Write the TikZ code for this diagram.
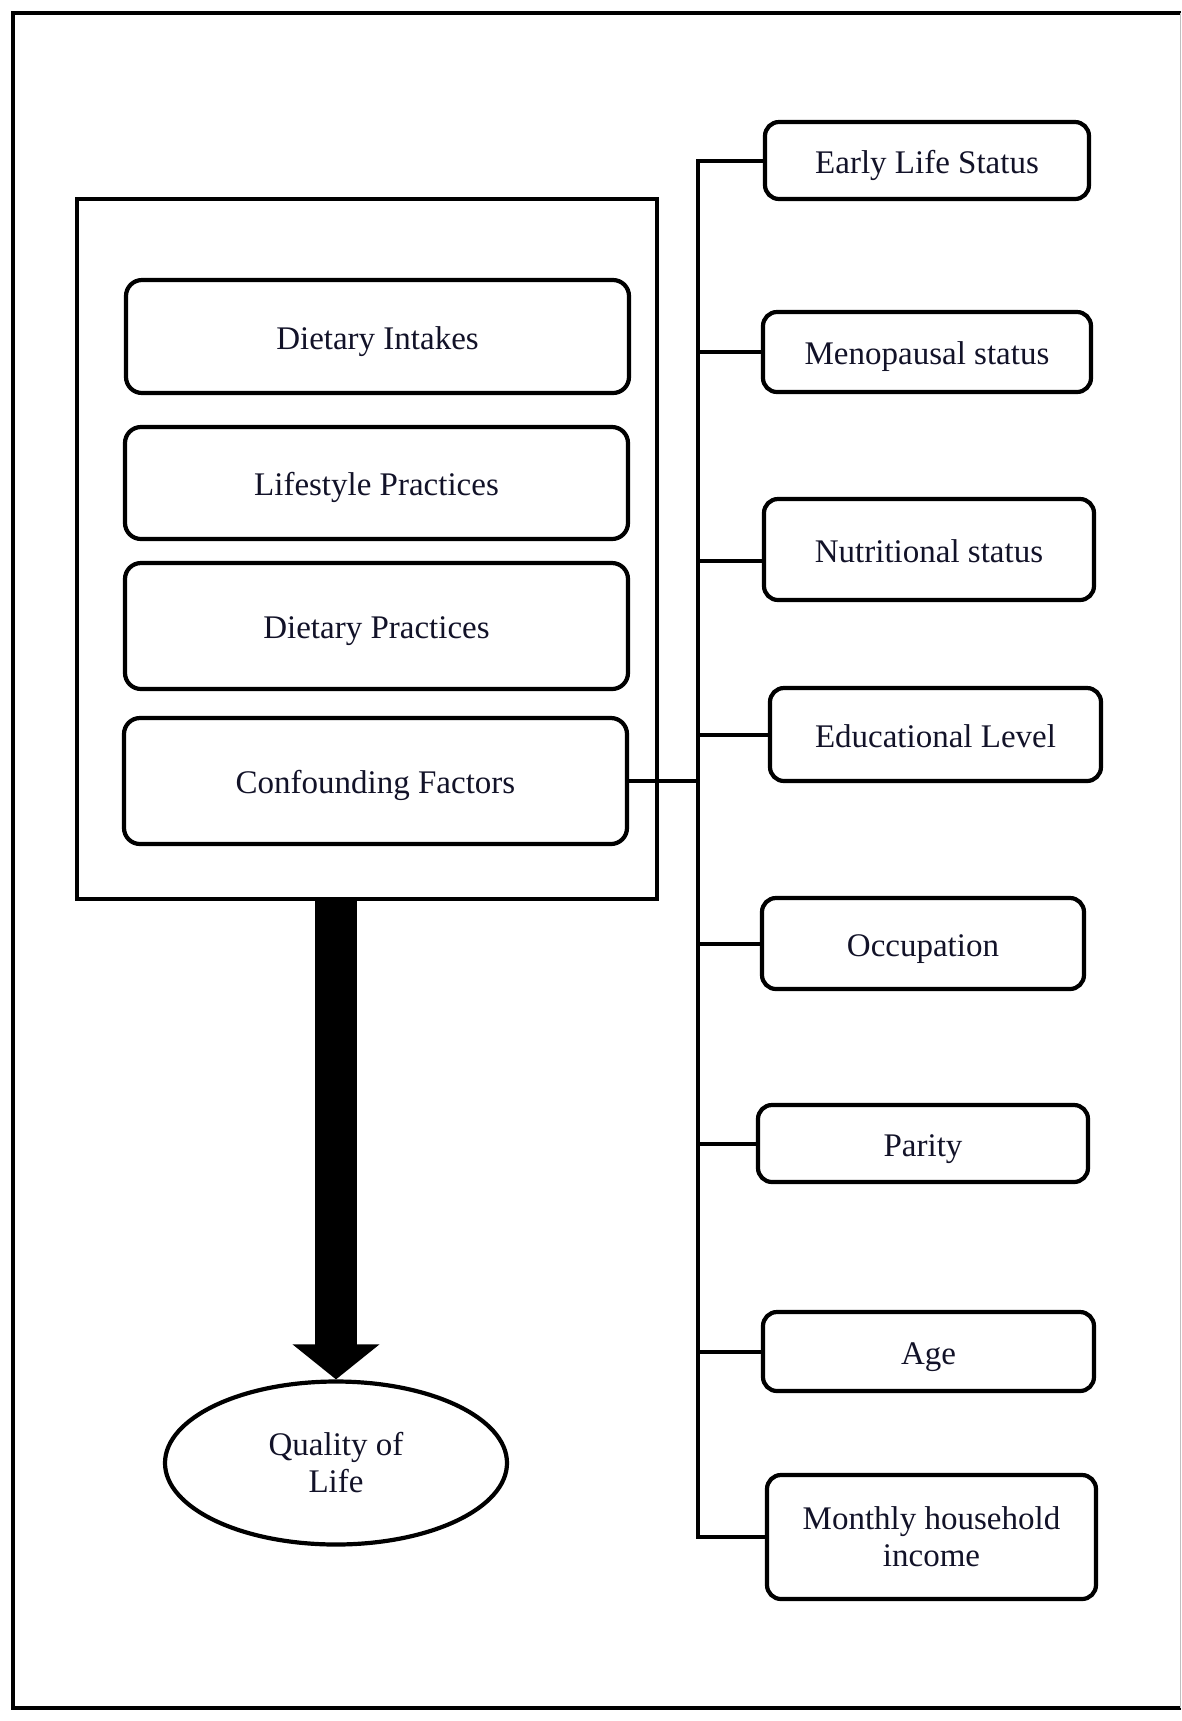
\documentclass[tikz,border=0pt]{standalone}
\usepackage{fontspec}
\setmainfont{Liberation Serif}
\usetikzlibrary{arrows.meta,shapes.geometric}
\definecolor{ink}{RGB}{18,18,40}
\begin{document}
\begin{tikzpicture}[x=0.5pt,y=-0.5pt,
  every node/.style={font=\fontsize{16.5}{18.5}\selectfont, text=ink},
  oneline/.style={text height=15.2pt, text depth=2.5pt},
  lbox/.style={draw, line width=2.1pt, rounded corners=8pt, minimum width=251.5pt, inner sep=0pt, align=center, oneline},
  rbox/.style={draw, line width=2.1pt, rounded corners=7pt, inner sep=0pt, align=center},
  conn/.style={line width=2pt, line join=miter},
  bigarrow/.style={line width=21pt, -{Triangle[width=42.5pt,length=17.5pt]}}
]
\useasboundingbox (0,0) rectangle (1182,1721);
% outer frame
\draw[line width=2.3pt] (1181,13) -- (13,13) -- (13,1708) -- (1181,1708);
\draw[gray!50, line width=0.6pt] (1180.5,13) -- (1180.5,1708);
% inner frame
\node[draw, line width=2.1pt, minimum width=290pt, minimum height=350pt, inner sep=0pt] (frame) at (367,549) {};
% left boxes
\node[lbox, minimum height=56.5pt] (c1) at (377.5,336.5) {Dietary Intakes};
\node[lbox, minimum height=56pt] (c2) at (376.5,483) {Lifestyle Practices};
\node[lbox, minimum height=63pt] (c3) at (376.5,626) {Dietary Practices};
\node[lbox, minimum height=63pt] (c4) at (375.5,781) {Confounding Factors};
% right boxes
\node[rbox, oneline, minimum width=162pt, minimum height=38.5pt] (b1) at (927,160.5) {Early Life Status};
\node[rbox, oneline, minimum width=164pt, minimum height=40pt] (b2) at (927,352) {Menopausal status};
\node[rbox, oneline, minimum width=165pt, minimum height=50.5pt] (b3) at (929,549.5) {Nutritional status};
\node[rbox, oneline, minimum width=165.5pt, minimum height=46.5pt] (b4) at (935.5,734.5) {Educational Level};
\node[rbox, oneline, minimum width=161pt, minimum height=45.5pt] (b5) at (923,943.5) {Occupation};
\node[rbox, oneline, minimum width=165pt, minimum height=38.5pt] (b6) at (923,1143.5) {Parity};
\node[rbox, oneline, minimum width=165.5pt, minimum height=39.5pt] (b7) at (928.5,1351.5) {Age};
\node[rbox, minimum width=164.5pt, minimum height=62pt] (b8) at (931.5,1537) {Monthly household\\income};
% ellipse
\node[draw, ellipse, line width=2.1pt, minimum width=171pt, minimum height=81.5pt, inner sep=0pt, align=center] (q) at (336,1463) {Quality of\\Life};
% spine and branches
\coordinate (sp) at (698,159);
\draw[conn] (b1.west) -- (b1.west -| sp) -- (b8.west -| sp) -- (b8.west);
\draw[conn] (b2.west) -- (b2.west -| sp);
\draw[conn] ([yshift=-5.5pt]b3.west) -- ++(-66,0);
\draw[conn] (b4.west) -- (b4.west -| sp);
\draw[conn] (b5.west) -- (b5.west -| sp);
\draw[conn] (b6.west) -- (b6.west -| sp);
\draw[conn] (b7.west) -- (b7.west -| sp);
\draw[conn] (c4.east) -- (c4.east -| sp);
% big arrow
\draw[bigarrow] (frame.south -| q.north) -- (q.north);
\end{tikzpicture}
\end{document}
